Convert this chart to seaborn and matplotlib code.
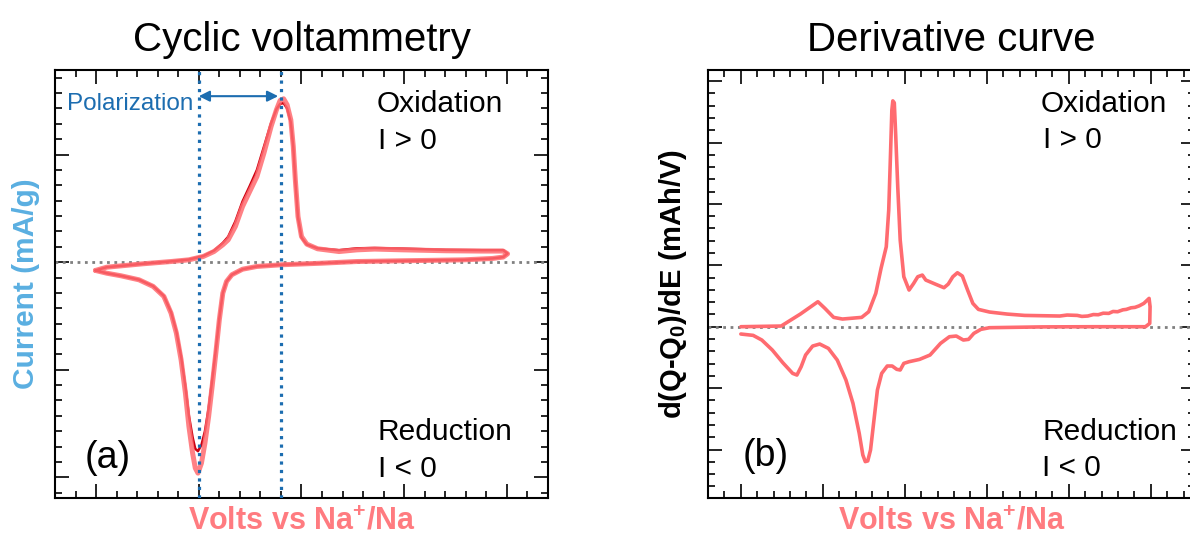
import seaborn as sns
import matplotlib.pyplot as plt
from matplotlib.ticker import MultipleLocator

sns.set_style('ticks')
plt.rcParams['font.family'] = ['Liberation Sans', 'DejaVu Sans']
plt.rcParams['mathtext.fontset'] = 'custom'
plt.rcParams['mathtext.rm'] = 'Liberation Sans'
plt.rcParams['mathtext.bf'] = 'Liberation Sans:bold'
plt.rcParams['text.color'] = 'black'
plt.rcParams['axes.labelcolor'] = 'black'

# cyclic voltammetry loop (V vs Na+/Na, mA/g)
cv_volts = [1.997, 2.052, 2.226, 2.365, 2.452, 2.522, 2.574, 2.617, 2.643, 2.678,
            2.713, 2.748, 2.783, 2.817, 2.852, 2.878, 2.896, 2.913, 2.930, 2.948,
            2.960, 2.970, 2.983, 3.000, 3.026, 3.078, 3.183, 3.270, 3.356, 3.496,
            3.704, 3.878, 3.982, 4.003, 3.982, 3.930, 3.791, 3.496, 3.270, 3.096,
            2.904, 2.783, 2.713, 2.661, 2.635, 2.617, 2.600, 2.583, 2.565, 2.548,
            2.530, 2.513, 2.496, 2.483, 2.470, 2.452, 2.435, 2.414, 2.391, 2.365,
            2.330, 2.278, 2.209, 2.122, 2.052, 1.997]
cv_cycle1 = [-5.4, -3.3, -1.1, 0.4, 1.5, 3.7, 6.9, 11.3, 14.5, 23.2,
             36.2, 46.0, 55.7, 70.9, 88.3, 99.1, 105.2, 106.3, 102.4, 92.6,
             75.3, 53.6, 29.7, 16.7, 11.7, 8.7, 6.9, 8.0, 8.5, 8.0,
             7.4, 7.2, 7.2, 5.4, 3.3, 2.4, 1.5, 0.9, 0.4, -0.7,
             -1.7, -2.8, -4.6, -8.2, -12.6, -20.2, -37.5, -59.2, -80.9, -100.4,
             -117.8, -130.8, -137.3, -134.0, -124.3, -106.9, -85.2, -63.6, -46.2, -33.2,
             -22.3, -15.8, -11.5, -8.9, -7.2, -5.4]
cv_cycle2 = [-5.4, -3.3, -1.1, 0.5, 1.7, 4.0, 7.5, 12.5, 16.5, 26.5,
             39.5, 49.5, 60.0, 75.0, 90.5, 99.5, 103.0, 103.5, 100.0, 91.0,
             75.0, 53.0, 29.0, 16.0, 11.5, 9.0, 7.8, 9.0, 9.2, 8.8,
             8.0, 7.8, 7.8, 5.6, 3.3, 2.4, 1.5, 0.9, 0.4, -0.7,
             -1.7, -2.8, -4.6, -8.2, -12.6, -20.0, -36.5, -57.0, -77.0, -95.0,
             -110.0, -119.0, -123.0, -121.5, -114.0, -100.0, -81.0, -61.5, -45.0, -32.5,
             -22.0, -15.6, -11.4, -8.9, -7.2, -5.4]
peak_volts = [2.5, 2.9]   # reduction / oxidation peaks -> polarization

# derivative curve d(Q-Q0)/dE, charge branch then discharge branch
dq_volts = [2.000, 2.246, 2.363, 2.470, 2.513, 2.566, 2.620, 2.737, 2.780, 2.823,
            2.855, 2.887, 2.902, 2.913, 2.921, 2.927, 2.936, 2.945, 2.957, 2.972,
            2.994, 3.026, 3.054, 3.079, 3.107, 3.128, 3.186, 3.239, 3.265, 3.293,
            3.321, 3.351, 3.383, 3.415, 3.449, 3.517, 3.624, 3.731, 3.838, 3.945,
            3.990, 4.052, 4.080, 4.116, 4.150, 4.180, 4.210, 4.244, 4.270, 4.298,
            4.330, 4.351, 4.380, 4.404, 4.430, 4.458, 4.490, 4.496, 4.494, 4.468,
            4.158, 3.838, 3.517, 3.464, 3.421, 3.389, 3.357, 3.314, 3.272, 3.218,
            3.154, 3.090, 3.026, 2.994, 2.972, 2.951, 2.923, 2.893, 2.859, 2.833,
            2.812, 2.791, 2.774, 2.759, 2.744, 2.722, 2.684, 2.641, 2.588, 2.534,
            2.481, 2.438, 2.395, 2.368, 2.342, 2.316, 2.256, 2.192, 2.128, 2.075,
            2.000]
dq_values = [0.0, 1.1, 20.6, 40.7, 29.8, 15.2, 12.5, 15.2, 24.4, 54.3,
             94.9, 130.2, 189.9, 282.0, 352.6, 367.8, 364.6, 309.2, 227.9, 141.0,
             81.4, 59.7, 70.5, 81.4, 84.1, 76.0, 69.4, 63.5, 69.4, 81.4,
             87.9, 82.5, 59.7, 38.0, 28.2, 23.9, 20.6, 18.4, 17.9, 17.4,
             19.0, 18.4, 16.8, 17.4, 19.8, 19.5, 22.0, 21.7, 24.8, 24.4,
             27.5, 28.2, 30.8, 31.5, 34.0, 38.0, 46.1, 32.6, 5.4, 0.0,
             0.0, -0.3, -1.6, -4.3, -10.9, -20.6, -21.7, -15.2, -16.3, -27.1,
             -46.1, -53.2, -57.0, -59.7, -70.5, -69.4, -64.0, -64.0, -76.0, -103.1,
             -151.9, -200.7, -218.6, -219.7, -208.9, -173.6, -124.8, -86.8, -54.3, -35.3,
             -28.2, -31.5, -46.1, -65.1, -78.7, -76.0, -58.6, -38.0, -21.7, -14.1,
             -11.9]

LIGHT = '#ff6b70'
DARK = '#cc0010'
BLUE = '#1c6db0'
VOLT_LABEL = r'Volts vs Na$^{\mathbf{+}}$/Na'

fig = plt.figure(figsize=(11.9, 5.38), dpi=100)
ax1 = fig.add_axes([0.0462, 0.0743, 0.4143, 0.7955])
ax2 = fig.add_axes([0.5950, 0.0743, 0.4092, 0.7955])


def style_axes(ax, xstep, ystep, ysub):
    ax.xaxis.set_major_locator(MultipleLocator(xstep))
    ax.xaxis.set_minor_locator(MultipleLocator(xstep / 5))
    ax.yaxis.set_major_locator(MultipleLocator(ystep))
    ax.yaxis.set_minor_locator(MultipleLocator(ystep / ysub))
    ax.tick_params(which='both', direction='in', top=True, right=True,
                   labelbottom=False, labelleft=False, width=1.2, color='black')
    ax.tick_params(which='major', length=10)
    ax.tick_params(which='minor', length=5)
    for s in ax.spines.values():
        s.set_linewidth(1.5)
        s.set_color('black')


# (a) cyclic voltammetry
ax1.axhline(0, color='#808080', ls=':', lw=2, zorder=1)
sns.lineplot(x=cv_volts, y=cv_cycle2, sort=False, estimator=None,
             color=DARK, linewidth=1.8, ax=ax1, zorder=2)
sns.lineplot(x=cv_volts, y=cv_cycle1, sort=False, estimator=None,
             color=LIGHT, linewidth=3.6, alpha=0.85, ax=ax1, zorder=3)
for v in peak_volts:
    ax1.axvline(v, color=BLUE, ls=':', lw=2.3, zorder=4)
ax1.annotate('', xy=(peak_volts[1], 108), xytext=(peak_volts[0], 108),
             arrowprops=dict(arrowstyle='<|-|>', color=BLUE, lw=1.5,
                             mutation_scale=16, shrinkA=0, shrinkB=2))
ax1.set_xlim(1.8, 4.2)
ax1.set_ylim(-153.5, 125)
style_axes(ax1, 0.5, 70, 7)
ax1.set_title('Cyclic voltammetry', fontsize=29, pad=14)
ax1.set_xlabel(VOLT_LABEL, color='#ff7b80', fontsize=22, fontweight='bold', labelpad=6)
ax1.set_ylabel('Current (mA/g)', color='#5aafe1', fontsize=21.5, fontweight='bold', labelpad=11)
ax1.text(0.025, 0.9065, 'Polarization', color=BLUE, fontsize=17.5, transform=ax1.transAxes, va='baseline')
ax1.text(0.652, 0.902, 'Oxidation', fontsize=21.5, transform=ax1.transAxes, va='baseline')
ax1.text(0.655, 0.815, 'I > 0', fontsize=21.5, transform=ax1.transAxes, va='baseline')
ax1.text(0.655, 0.1355, 'Reduction', fontsize=21.5, transform=ax1.transAxes, va='baseline')
ax1.text(0.655, 0.049, 'I < 0', fontsize=21.5, transform=ax1.transAxes, va='baseline')
ax1.text(0.061, 0.070, '(a)', fontsize=27, transform=ax1.transAxes, va='baseline')

# (b) derivative curve
ax2.axhline(0, color='#808080', ls=':', lw=2, zorder=1)
sns.lineplot(x=dq_volts, y=dq_values, sort=False, estimator=None,
             color=LIGHT, linewidth=2.6, ax=ax2, zorder=3)
ax2.set_xlim(1.8, 4.77)
ax2.set_ylim(-279, 418)
style_axes(ax2, 0.5, 100, 5)
ax2.set_title('Derivative curve', fontsize=29, pad=14)
ax2.set_xlabel(VOLT_LABEL, color='#ff7b80', fontsize=22, fontweight='bold', labelpad=6)
ax2.set_ylabel(r'd(Q-Q$_\mathbf{0}$)/dE (mAh/V)', fontsize=21, fontweight='bold', labelpad=14)
ax2.text(0.684, 0.902, 'Oxidation', fontsize=21.5, transform=ax2.transAxes, va='baseline')
ax2.text(0.687, 0.818, 'I > 0', fontsize=21.5, transform=ax2.transAxes, va='baseline')
ax2.text(0.686, 0.1355, 'Reduction', fontsize=21.5, transform=ax2.transAxes, va='baseline')
ax2.text(0.686, 0.051, 'I < 0', fontsize=21.5, transform=ax2.transAxes, va='baseline')
ax2.text(0.072, 0.075, '(b)', fontsize=27, transform=ax2.transAxes, va='baseline')

fig.savefig('out.png', dpi=100)
